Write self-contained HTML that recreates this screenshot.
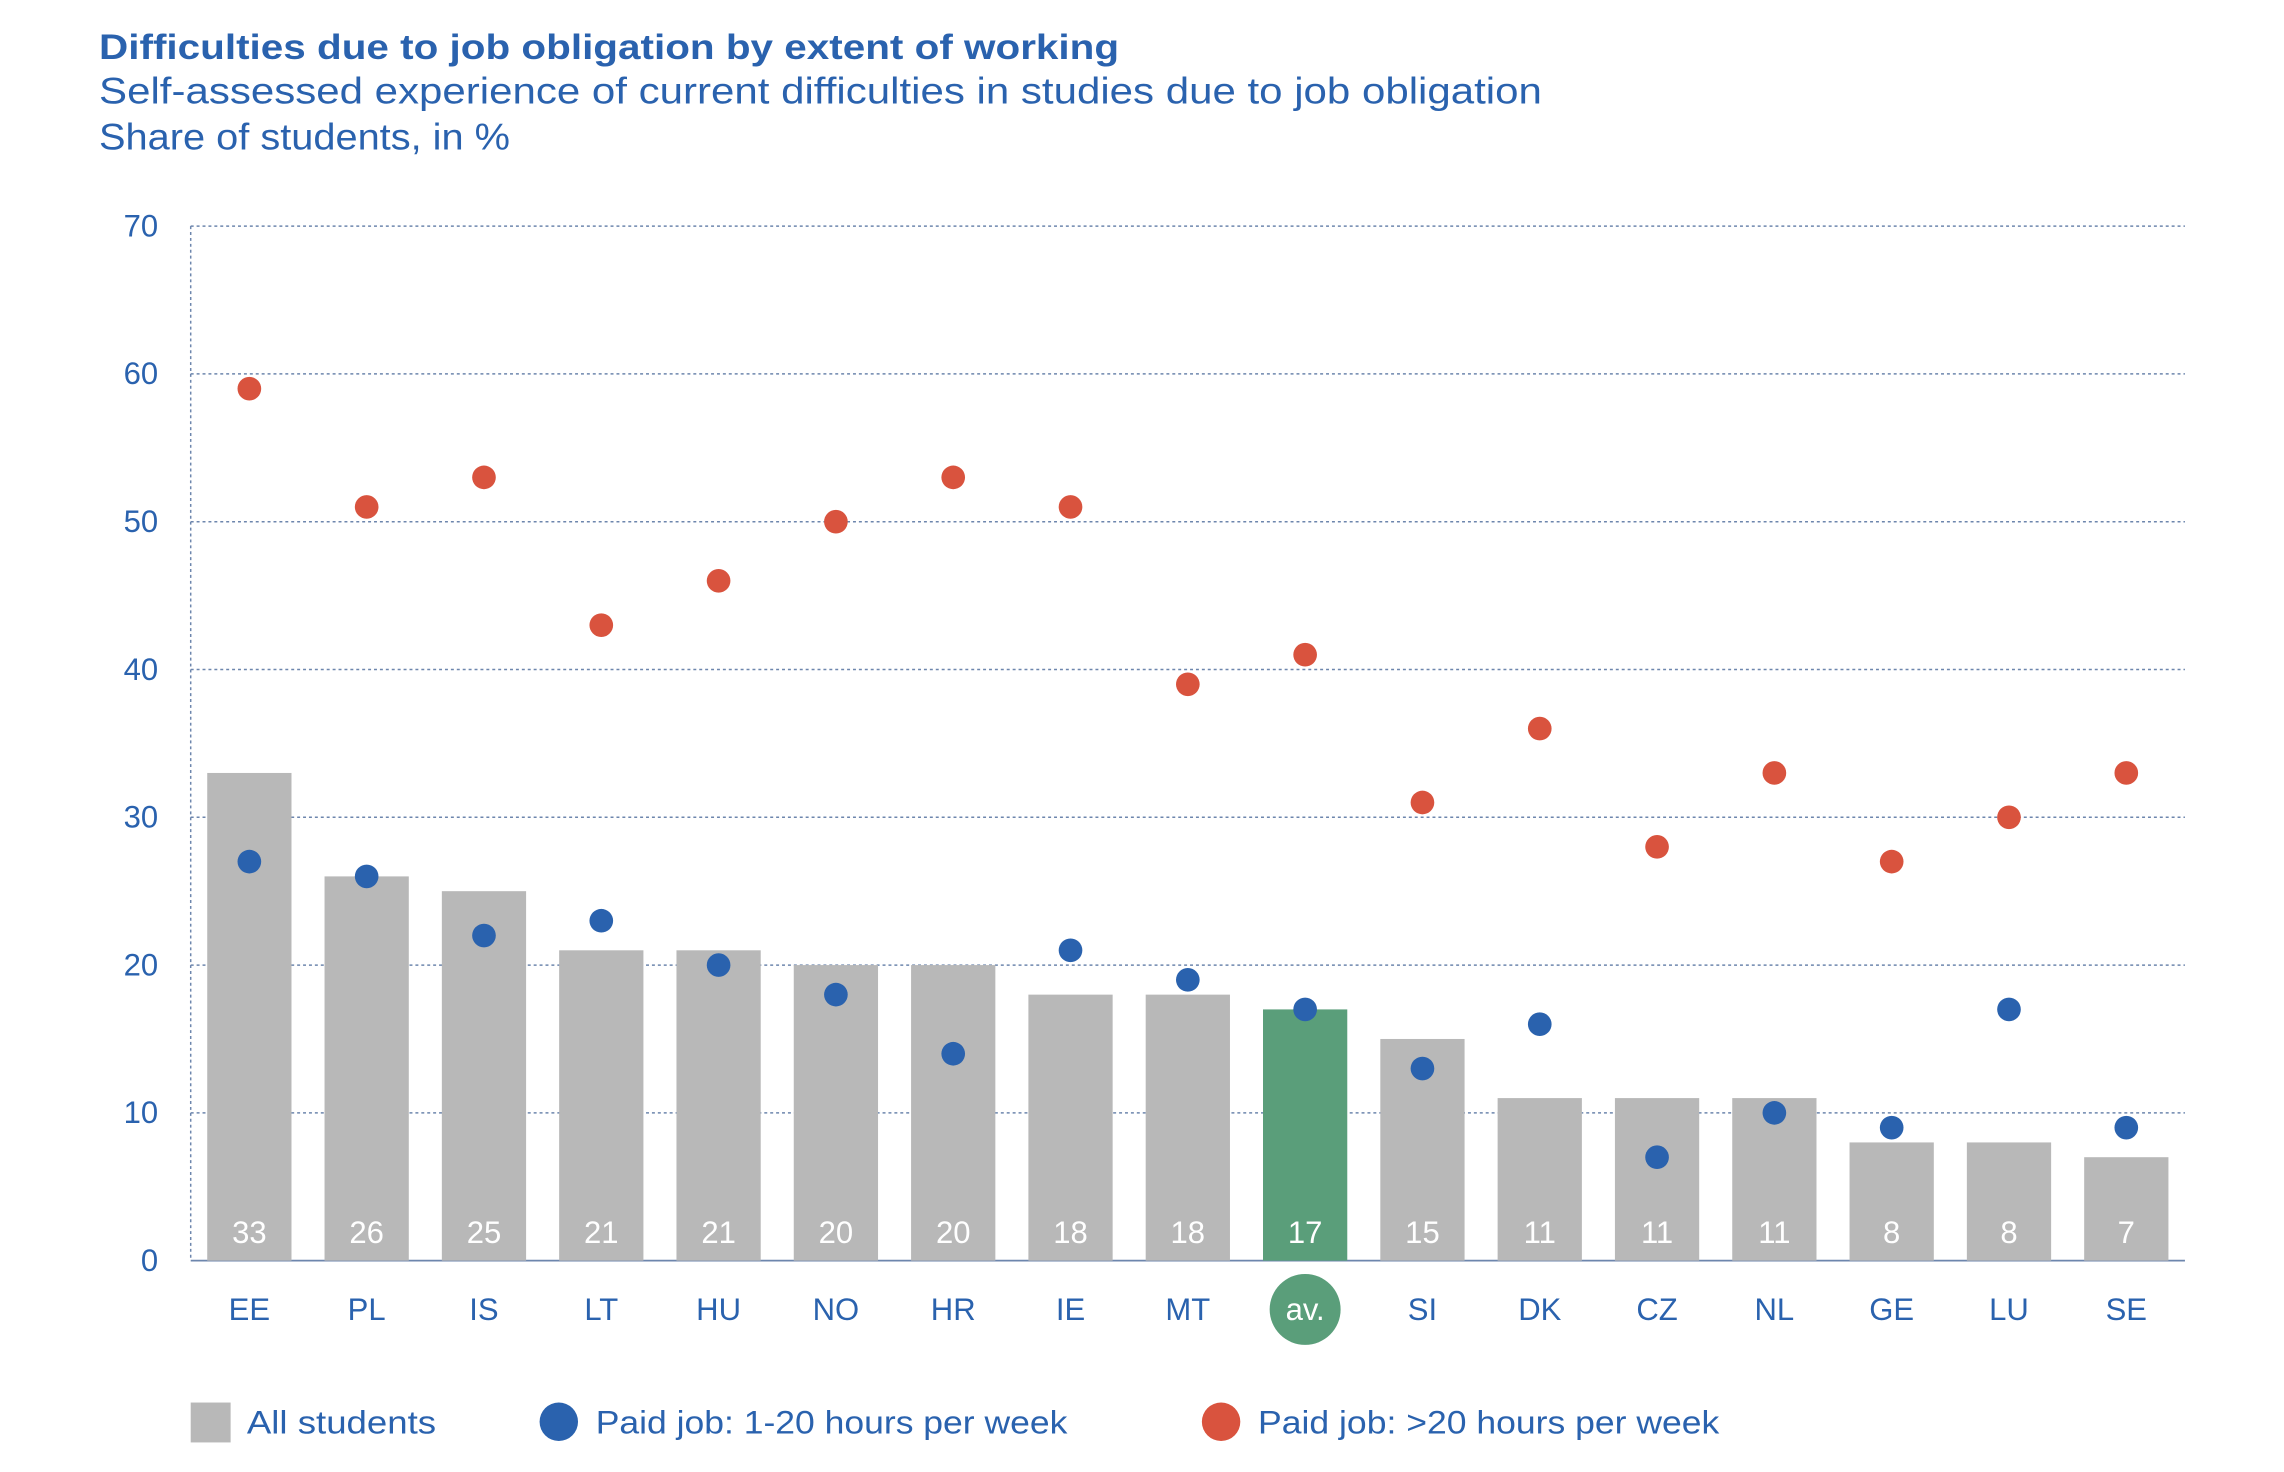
<!DOCTYPE html>
<html><head><meta charset="utf-8"><style>
html,body{margin:0;padding:0;background:#fff}
svg{display:block;font-family:"Liberation Sans",sans-serif}
</style></head><body>
<svg id="chart" width="2284" height="1472" viewBox="0 0 1545 996" preserveAspectRatio="none" xmlns="http://www.w3.org/2000/svg">
<text x="67" y="40" font-size="24" font-weight="bold" fill="#2a62ae" textLength="690" lengthAdjust="spacingAndGlyphs">Difficulties due to job obligation by extent of working</text>
<text x="67" y="70" font-size="25" fill="#2a62ae" textLength="976" lengthAdjust="spacingAndGlyphs">Self-assessed experience of current difficulties in studies due to job obligation</text>
<text x="67" y="101" font-size="25" fill="#2a62ae" textLength="278" lengthAdjust="spacingAndGlyphs">Share of students, in %</text>
<g id="grid"></g><g id="bars"></g><g id="dots"></g><g id="xlabels"></g>
<g>
<rect x="129" y="949" width="27" height="27" fill="#b8b8b8"/>
<text x="167" y="970" font-size="22" fill="#2a62ae" textLength="128" lengthAdjust="spacingAndGlyphs">All students</text>
<circle cx="378" cy="962" r="13" fill="#2a62ae"/>
<text x="403" y="970" font-size="22" fill="#2a62ae" textLength="319" lengthAdjust="spacingAndGlyphs">Paid job: 1-20 hours per week</text>
<circle cx="826" cy="962" r="13" fill="#d9533e"/>
<text x="851" y="970" font-size="22" fill="#2a62ae" textLength="312" lengthAdjust="spacingAndGlyphs">Paid job: &gt;20 hours per week</text>
</g>
</svg>
<script>
const categories=["EE","PL","IS","LT","HU","NO","HR","IE","MT","av.","SI","DK","CZ","NL","GE","LU","SE"];
const allStudents=[33,26,25,21,21,20,20,18,18,17,15,11,11,11,8,8,7];
const job1to20=[27,26,22,23,20,18,14,21,19,17,13,16,7,10,9,17,9];
const jobOver20=[59,51,53,43,46,50,53,51,39,41,31,36,28,33,27,30,33];
const yTicks=[0,10,20,30,40,50,60,70];
const NS="http://www.w3.org/2000/svg";
const L=129,R=1478,Y0=853,YT=153,YMAX=70;
const y=v=>Y0-(v/YMAX)*(Y0-YT);
const step=(R-L)/categories.length;
const x=i=>L+step*(i+0.5);
function mk(t,a,p){const e=document.createElementNS(NS,t);for(const k in a)e.setAttribute(k,a[k]);p.appendChild(e);return e;}
const grid=document.getElementById('grid');
yTicks.forEach(v=>{
  if(v>0){const l=mk('line',{x1:L,x2:R,y1:y(v),y2:y(v),stroke:'#6d86ad','stroke-width':1,'stroke-dasharray':'2,2'},grid);
  
  }
  const t=mk('text',{x:107,y:y(v)+7,'font-size':21,fill:'#2a62ae','text-anchor':'end'},grid);t.textContent=v;
  
  
});
const ya=mk('line',{x1:L,x2:L,y1:YT,y2:Y0,stroke:'#6d86ad','stroke-width':1,'stroke-dasharray':'2,2'},grid);


const xa=mk('line',{x1:L,x2:R,y1:Y0,y2:Y0,stroke:'#6d86ad','stroke-width':1.2},grid);


const bars=document.getElementById('bars'),dots=document.getElementById('dots'),xl=document.getElementById('xlabels');
const bw=57;
categories.forEach((c,i)=>{
  const av=c==='av.';
  const b=mk('rect',{x:x(i)-bw/2,y:y(allStudents[i]),width:bw,height:Y0-y(allStudents[i]),fill:av?'#5a9e7a':'#b8b8b8'},bars);
  
  
  const vt=mk('text',{x:x(i),y:841,'font-size':21,fill:'#fff','text-anchor':'middle'},bars);vt.textContent=allStudents[i];
  
  
  const d1=mk('circle',{cx:x(i),cy:y(job1to20[i]),r:8,fill:'#2a62ae'},dots);
  
  
  const d2=mk('circle',{cx:x(i),cy:y(jobOver20[i]),r:8,fill:'#d9533e'},dots);
  
  
  if(av){const cc=mk('circle',{cx:x(i),cy:886,r:24,fill:'#5a9e7a'},xl);
    
    }
  const t=mk('text',{x:x(i),y:893,'font-size':21,fill:av?'#fff':'#2a62ae','text-anchor':'middle'},xl);t.textContent=c;
  
  
});
</script>
</body></html>
